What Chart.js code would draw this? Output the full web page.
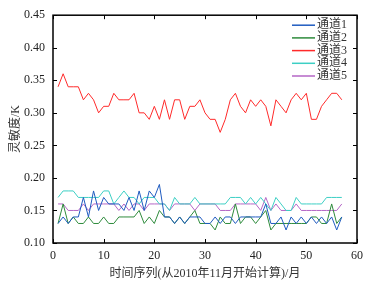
<!DOCTYPE html>
<html>
<head>
<meta charset="utf-8">
<script src="https://cdn.jsdelivr.net/npm/chart.js@4"></script>
<style>
  html, body { margin: 0; padding: 0; background: #fff; }
  #wrap { width: 373px; height: 290px; }
</style>
</head>
<body>
<div id="wrap"><canvas id="chart" width="373" height="290"></canvas></div>
<script>
// ── Data ──────────────────────────────────────────────────────────────────
const months = [1,2,3,4,5,6,7,8,9,10,11,12,13,14,15,16,17,18,19,20,21,22,23,24,25,26,27,28,29,30,
                31,32,33,34,35,36,37,38,39,40,41,42,43,44,45,46,47,48,49,50,51,52,53,54,55,56,57];

const ch1 = [0.13,0.14,0.13,0.14,0.14,0.17,0.14,0.18,0.15,0.17,
             0.16,0.16,0.16,0.15,0.17,0.15,0.18,0.15,0.18,0.17,
             0.19,0.14,0.14,0.13,0.14,0.13,0.14,0.14,0.14,0.13,
             0.13,0.14,0.13,0.14,0.14,0.13,0.14,0.14,0.14,0.14,
             0.14,0.16,0.13,0.13,0.14,0.12,0.14,0.13,0.14,0.13,
             0.14,0.13,0.14,0.13,0.14,0.12,0.14];
const ch2 = [0.13,0.16,0.13,0.14,0.13,0.13,0.14,0.13,0.13,0.14,
             0.13,0.13,0.14,0.14,0.14,0.14,0.15,0.13,0.14,0.13,
             0.15,0.14,0.14,0.13,0.14,0.13,0.14,0.15,0.13,0.13,
             0.13,0.12,0.14,0.13,0.13,0.16,0.13,0.14,0.14,0.13,
             0.14,0.15,0.12,0.13,0.13,0.13,0.13,0.13,0.13,0.13,
             0.14,0.14,0.13,0.13,0.16,0.13,0.14];
const ch3 = [0.34,0.36,0.34,0.34,0.34,0.32,0.33,0.32,0.30,0.31,
             0.31,0.33,0.32,0.32,0.32,0.33,0.30,0.30,0.29,0.31,
             0.29,0.32,0.29,0.32,0.32,0.29,0.31,0.31,0.32,0.30,
             0.29,0.29,0.27,0.29,0.32,0.33,0.31,0.30,0.32,0.31,
             0.32,0.31,0.28,0.32,0.31,0.30,0.32,0.33,0.32,0.33,
             0.29,0.29,0.31,0.32,0.33,0.33,0.32];
const ch4 = [0.17,0.18,0.18,0.18,0.17,0.17,0.17,0.17,0.17,0.18,
             0.18,0.16,0.17,0.18,0.17,0.17,0.16,0.17,0.17,0.17,
             0.16,0.16,0.15,0.17,0.16,0.16,0.16,0.17,0.16,0.16,
             0.16,0.16,0.16,0.16,0.17,0.17,0.17,0.16,0.17,0.16,
             0.17,0.16,0.15,0.17,0.16,0.15,0.15,0.17,0.16,0.16,
             0.16,0.16,0.16,0.17,0.17,0.17,0.17];
const ch5 = [0.16,0.16,0.15,0.15,0.15,0.16,0.15,0.16,0.16,0.16,
             0.16,0.16,0.15,0.16,0.15,0.16,0.16,0.15,0.16,0.16,
             0.16,0.16,0.15,0.16,0.16,0.16,0.16,0.15,0.16,0.16,
             0.16,0.16,0.15,0.15,0.15,0.16,0.16,0.16,0.16,0.16,
             0.15,0.17,0.15,0.16,0.15,0.15,0.15,0.16,0.15,0.15,
             0.15,0.15,0.15,0.15,0.15,0.15,0.16];

const seriesNames  = ['通道1', '通道2', '通道3', '通道4', '通道5'];
const seriesColors = ['#1f5bc0', '#2e8b3c', '#ff2a2a', '#3ccfc4', '#b466c6'];
const xTicks = [0, 10, 20, 30, 40, 50, 60];
const yTicks = [0.10, 0.15, 0.20, 0.25, 0.30, 0.35, 0.40, 0.45];

const serif = "'Liberation Serif', 'Times New Roman', serif";
const cjk   = "'Liberation Serif', 'Noto Sans CJK SC', sans-serif";

// ── Frame + inward ticks (MATLAB look) ────────────────────────────────────
const framePlugin = {
    id: 'frame',
    afterDatasetsDraw(chart) {
        const { ctx, chartArea: a, scales: { x, y } } = chart;
        ctx.save();
        ctx.strokeStyle = '#000';
        ctx.lineWidth = 1;
        ctx.beginPath();
        xTicks.forEach(v => {
            const px = Math.round(x.getPixelForValue(v)) + 0.5;
            ctx.moveTo(px, a.bottom); ctx.lineTo(px, a.bottom - 4);
            ctx.moveTo(px, a.top);    ctx.lineTo(px, a.top + 4);
        });
        yTicks.forEach(v => {
            const py = Math.round(y.getPixelForValue(v)) + 0.5;
            ctx.moveTo(a.left, py);  ctx.lineTo(a.left + 4, py);
            ctx.moveTo(a.right, py); ctx.lineTo(a.right - 4, py);
        });
        ctx.stroke();
        ctx.lineWidth = 1.5;
        ctx.strokeRect(a.left, a.top, a.right - a.left, a.bottom - a.top);
        ctx.restore();
    }
};

// ── Legend inside the top-right corner ────────────────────────────────────
const cornerLegend = {
    id: 'cornerLegend',
    afterDraw(chart) {
        const { ctx, chartArea: a } = chart;
        ctx.save();
        ctx.font = '12px ' + cjk;
        ctx.textBaseline = 'middle';
        chart.data.datasets.forEach((ds, i) => {
            const yy = a.top + 10 + i * 12.7;
            ctx.strokeStyle = ds.borderColor;
            ctx.lineWidth = 1.5;
            ctx.beginPath();
            ctx.moveTo(a.right - 65, yy); ctx.lineTo(a.right - 42, yy);
            ctx.stroke();
            ctx.fillStyle = '#333';
            ctx.fillText(ds.label, a.right - 40, yy);
        });
        ctx.restore();
    }
};

const allSeries = [ch1, ch2, ch3, ch4, ch5];

new Chart(document.getElementById('chart'), {
    type: 'line',
    data: {
        datasets: allSeries.map((vals, i) => ({
            label: seriesNames[i],
            data: months.map((m, k) => ({ x: m, y: vals[k] })),
            borderColor: seriesColors[i],
            backgroundColor: 'transparent',
            borderWidth: 1,
            pointRadius: 0,
            tension: 0
        }))
    },
    options: {
        responsive: false,
        animation: false,
        layout: { padding: { left: 0, right: 16, top: 12, bottom: 0 } },
        plugins: { legend: { display: false }, tooltip: { enabled: false } },
        scales: {
            x: {
                type: 'linear', min: 0, max: 60,
                afterBuildTicks: s => { s.ticks = xTicks.map(v => ({ value: v })); },
                afterFit: s => { s.height = 47; },
                grid: { display: false, drawTicks: false },
                border: { display: false },
                ticks: { color: '#222', padding: 6, font: { family: serif, size: 12 } },
                title: { display: true, text: '时间序列(从2010年11月开始计算)/月', color: '#333',
                         font: { family: cjk, size: 12 }, padding: { top: 0, bottom: 9 } }
            },
            y: {
                type: 'linear', min: 0.10, max: 0.45,
                afterBuildTicks: s => { s.ticks = yTicks.map(v => ({ value: v })); },
                afterFit: s => { s.width = 53; },
                grid: { display: false, drawTicks: false },
                border: { display: false },
                ticks: { color: '#222', padding: 8, font: { family: serif, size: 12 },
                         callback: v => v.toFixed(2) },
                title: { display: true, text: '灵敏度/K', color: '#333',
                         font: { family: cjk, size: 12 }, padding: { top: 9, bottom: 0 } }
            }
        }
    },
    plugins: [framePlugin, cornerLegend]
});
</script>
</body>
</html>
